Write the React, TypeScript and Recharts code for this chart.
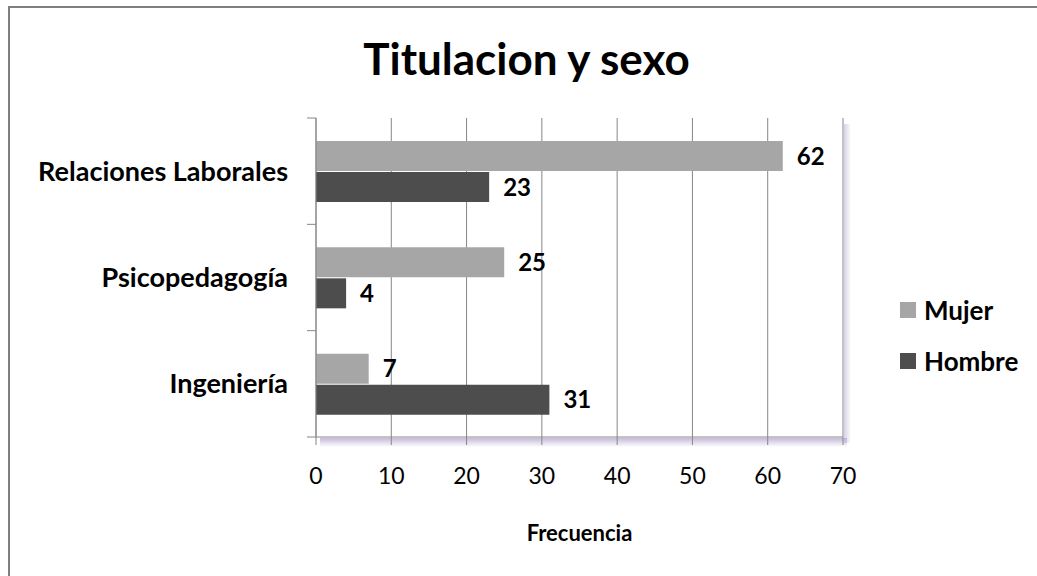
import React from "react";
import {
  BarChart,
  Bar,
  XAxis,
  YAxis,
  CartesianGrid,
  Legend,
  LabelList,
  usePlotArea,
} from "recharts";

const categories = ["Relaciones Laborales", "Psicopedagogía", "Ingeniería"];
const mujer = [62, 25, 7];
const hombre = [23, 4, 31];
const xTicks = [0, 10, 20, 30, 40, 50, 60, 70];

const FONT = "Lato, 'Open Sans', sans-serif";
const GRID = "#868686";
const MUJER_COLOR = "#a6a6a6";
const HOMBRE_COLOR = "#4d4d4d";
const Y_TICK_SIZE = 9;
const Y_TICK_MARGIN = 19;

const data = categories.map((name, i) => ({
  name,
  Mujer: mujer[i],
  Hombre: hombre[i],
}));

// category label at band center + tick marks at band edges (Excel style)
const CategoryTick = (props: any) => {
  const { x, y, payload, index, visibleTicksCount } = props;
  const axisX = x + Y_TICK_SIZE + Y_TICK_MARGIN;
  const half = payload.offset || 319 / 6;
  const isLast = index === visibleTicksCount - 1;
  return (
    <g>
      <line
        x1={axisX - Y_TICK_SIZE}
        x2={axisX}
        y1={y - half}
        y2={y - half}
        stroke={GRID}
      />
      {isLast && (
        <line
          x1={axisX - Y_TICK_SIZE}
          x2={axisX}
          y1={y + half}
          y2={y + half}
          stroke={GRID}
        />
      )}
      <text
        x={x}
        y={y}
        dy="0.35em"
        textAnchor="end"
        fontSize={27}
        fontWeight={700}
        fill="#000"
        fontFamily={FONT}
      >
        {payload.value}
      </text>
    </g>
  );
};

// soft lavender shadow under / right of the plot area
const PlotShadow = () => {
  const plot = usePlotArea();
  if (!plot) return null;
  const bottom = plot.y + plot.height;
  const right = plot.x + plot.width;
  return (
    <g>
      <defs>
        <linearGradient id="shadowDown" x1="0" y1="0" x2="0" y2="1">
          <stop offset="0%" stopColor="#bdb1d6" stopOpacity={0.9} />
          <stop offset="100%" stopColor="#bdb1d6" stopOpacity={0} />
        </linearGradient>
        <linearGradient id="shadowRight" x1="0" y1="0" x2="1" y2="0">
          <stop offset="0%" stopColor="#bdb1d6" stopOpacity={0.6} />
          <stop offset="100%" stopColor="#bdb1d6" stopOpacity={0} />
        </linearGradient>
      </defs>
      <rect
        x={plot.x + 4}
        y={bottom + 1}
        width={plot.width}
        height={9}
        fill="url(#shadowDown)"
      />
      <rect
        x={right + 1}
        y={plot.y + 6}
        width={7}
        height={plot.height}
        fill="url(#shadowRight)"
      />
    </g>
  );
};

const LegendBox = () => (
  <div style={{ fontFamily: FONT }}>
    {[
      { label: "Mujer", color: MUJER_COLOR },
      { label: "Hombre", color: HOMBRE_COLOR },
    ].map((item) => (
      <div
        key={item.label}
        style={{ display: "flex", alignItems: "center", height: 51 }}
      >
        <span
          style={{
            width: 16,
            height: 16,
            background: item.color,
            display: "inline-block",
            marginRight: 8,
          }}
        />
        <span style={{ fontSize: 26, fontWeight: 700, color: "#000" }}>
          {item.label}
        </span>
      </div>
    ))}
  </div>
);

const labelStyle = {
  fontSize: 24,
  fontWeight: 700,
  fill: "#000",
  fontFamily: FONT,
};

export default function App() {
  return (
    <div
      style={{
        position: "absolute",
        left: 0,
        top: 0,
        width: 1037,
        height: 576,
        background: "#fff",
        overflow: "hidden",
      }}
    >
      {/* frame */}
      <div
        style={{
          position: "absolute",
          left: 8,
          top: 6,
          width: 1100,
          height: 700,
          borderTop: "2px solid #7f7f7f",
          borderLeft: "2px solid #7f7f7f",
        }}
      />
      <div
        style={{
          position: "absolute",
          left: 0,
          width: 1053,
          top: 30,
          textAlign: "center",
          fontFamily: FONT,
          fontWeight: 700,
          fontSize: 44,
          lineHeight: "56px",
          color: "#000",
        }}
      >
        Titulacion y sexo
      </div>
      <div style={{ position: "absolute", left: 0, top: 0 }}>
        <BarChart
          width={1037}
          height={576}
          data={data}
          layout="vertical"
          margin={{ top: 118, right: 194, bottom: 0, left: 0 }}
          barSize={30}
          barGap={1}
        >
          <PlotShadow />
          <CartesianGrid
            horizontal={false}
            vertical={true}
            stroke={GRID}
            strokeWidth={1}
          />
          <XAxis
            type="number"
            domain={[0, 70]}
            ticks={xTicks}
            interval={0}
            height={139}
            axisLine={{ stroke: GRID }}
            tickLine={{ stroke: GRID }}
            tickSize={8}
            tickMargin={23}
            tick={{ fontSize: 23, fill: "#000", fontFamily: FONT }}
            label={{
              value: "Frecuencia",
              position: "insideBottom",
              offset: 35,
              style: {
                fontSize: 22,
                fontWeight: 700,
                fill: "#000",
                fontFamily: FONT,
              },
            }}
          />
          <YAxis
            type="category"
            dataKey="name"
            width={316}
            axisLine={{ stroke: GRID }}
            tickLine={false}
            tickSize={Y_TICK_SIZE}
            tickMargin={Y_TICK_MARGIN}
            tick={<CategoryTick />}
          />
          <Legend
            layout="vertical"
            align="center"
            verticalAlign="middle"
            content={<LegendBox />}
            wrapperStyle={{ left: 900, top: 284, width: 137 }}
          />
          <Bar dataKey="Mujer" fill={MUJER_COLOR} isAnimationActive={false}>
            <LabelList
              dataKey="Mujer"
              position="right"
              offset={14}
              style={labelStyle}
            />
          </Bar>
          <Bar dataKey="Hombre" fill={HOMBRE_COLOR} isAnimationActive={false}>
            <LabelList
              dataKey="Hombre"
              position="right"
              offset={14}
              style={labelStyle}
            />
          </Bar>
        </BarChart>
      </div>
    </div>
  );
}
